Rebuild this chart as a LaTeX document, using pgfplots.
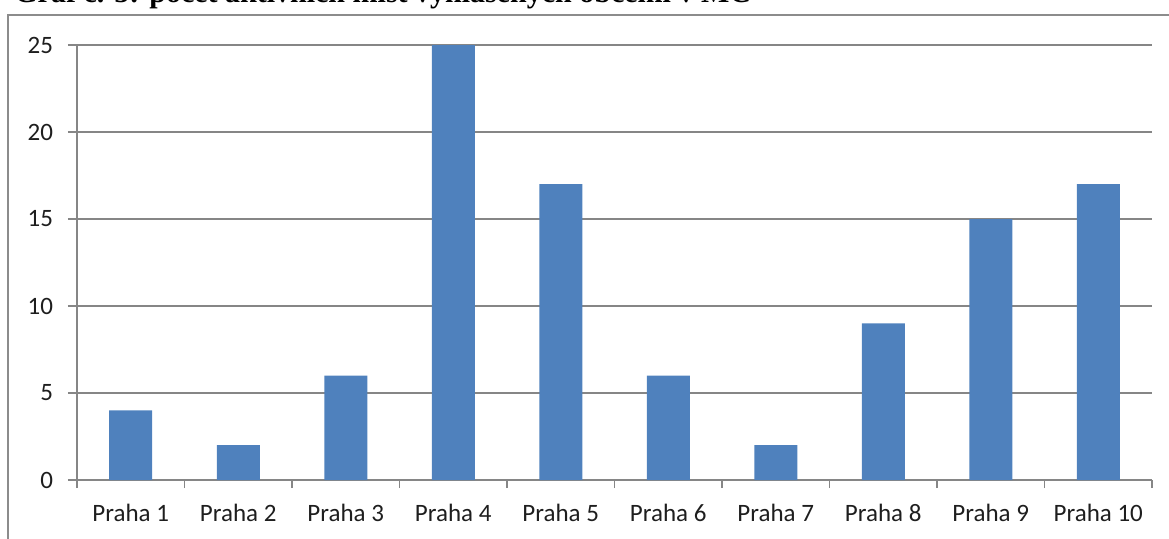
\documentclass[border=0pt]{standalone}
\usepackage{fontspec}
\setmainfont{Carlito}
\newfontfamily\titlefont{Liberation Serif}
\usepackage{pgfplots}
\pgfplotsset{compat=1.18}
\definecolor{barblue}{RGB}{79,129,189}
\definecolor{gridgray}{RGB}{134,134,134}
\definecolor{framegray}{RGB}{140,140,140}
\definecolor{labelgray}{RGB}{30,30,30}
\begin{document}
\begin{tikzpicture}
\useasboundingbox (0,0) rectangle (584.5pt,-269pt);
% title, cut off by the page edge
\begin{scope}
  \clip (0,0) rectangle (584.5pt,-10pt);
  \node[anchor=base west, inner sep=0pt, font=\titlefont\bfseries\fontsize{15}{17}\selectfont]
    at (7pt,-1.2pt) {Graf č. 5: počet aktivních míst vyhlášených obcemi v MČ};
\end{scope}
% frame of the chart area
\draw[line width=1pt, framegray] (4pt,-300pt) -- (4pt,-7.5pt) -- (620pt,-7.5pt);
\begin{axis}[
  at={(38.5pt,-240pt)}, anchor=south west,
  scale only axis,
  width=537.5pt, height=217.5pt,
  ybar, bar width=21.5pt,
  xmin=0.5, xmax=10.5,
  ymin=0, ymax=25,
  xtick={1,...,10},
  xticklabels={Praha 1, Praha 2, Praha 3, Praha 4, Praha 5, Praha 6, Praha 7, Praha 8, Praha 9, Praha 10},
  minor xtick={0.5,1.5,...,10.5},
  ytick={0,5,...,25},
  axis lines*=left,
  axis line style={gridgray, line width=0.6pt},
  tick style={gridgray, line width=0.6pt},
  tick align=outside,
  major tick length=4.5pt,
  minor tick length=4pt,
  major x tick style={draw=none},
  ymajorgrids=true,
  grid style={gridgray, line width=0.6pt},
  ticklabel style={font=\fontsize{12.5}{14}\selectfont, text=labelgray},
  /pgf/number format/assume math mode=true,
  yticklabel style={xshift=-4pt},
  xticklabel style={yshift=-4pt},
  clip=false,
]
\addplot[fill=barblue, draw=none] coordinates {
  (1,4) (2,2) (3,6) (4,25) (5,17) (6,6) (7,2) (8,9) (9,15) (10,17)
};
\end{axis}
\end{tikzpicture}
\end{document}
